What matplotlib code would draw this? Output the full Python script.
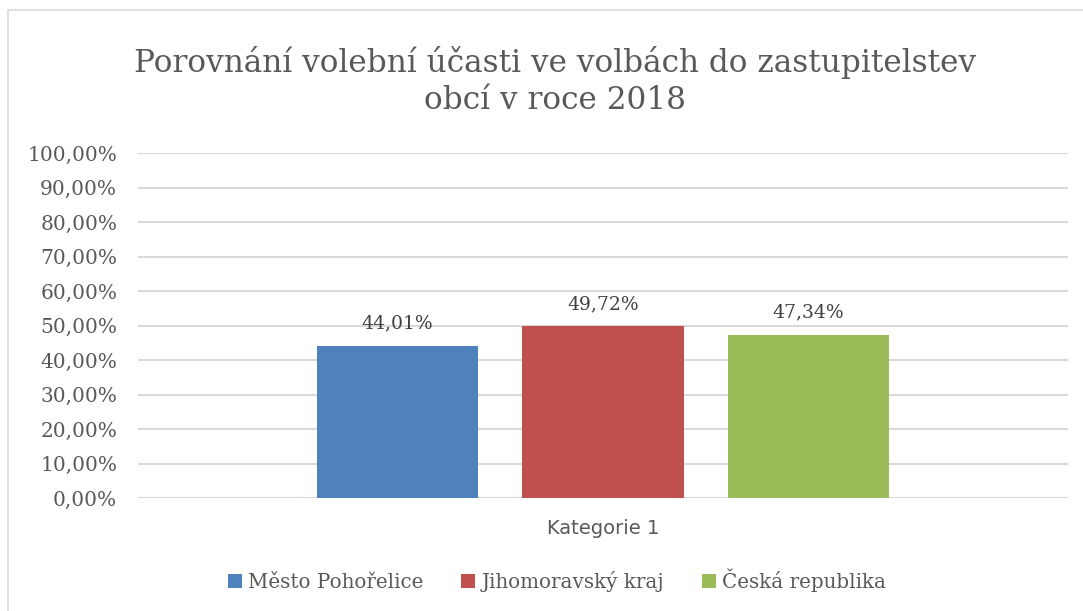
import numpy as np
import matplotlib.pyplot as plt
from matplotlib.ticker import FuncFormatter
from matplotlib.patches import Rectangle

title = "Porovnání volební účasti ve volbách do zastupitelstev\nobcí v roce 2018"
category = "Kategorie 1"
series = ["Město Pohořelice", "Jihomoravský kraj", "Česká republika"]
values = [44.01, 49.72, 47.34]
colors = ["#4f81bd", "#c0504d", "#9bbb59"]

txt = "#595959"
plt.rcParams['font.family'] = ['DejaVu Serif']

fig = plt.figure(figsize=(10.83, 6.11), dpi=100)
fig.patches.append(Rectangle((8 / 1083, -0.1), 1.2, 1.1 - 10 / 611, transform=fig.transFigure,
                             fill=False, edgecolor="#d9d9d9", linewidth=1.2))
ax = fig.add_axes([138 / 1083, 1 - 498 / 611, 930 / 1083, 345 / 611])

w = 0.174
step = 0.221
for i, (name, v, c) in enumerate(zip(series, values, colors)):
    x = (i - 1) * step
    ax.bar(x, v, width=w, color=c, label=name, zorder=3)
    ax.text(x, v + 3.9, f"{v:.2f}%".replace(".", ","), ha="center", va="bottom",
            fontsize=13.5, color="#404040")

ax.set_xlim(-0.5, 0.5)
ax.set_ylim(0, 100)
ax.set_yticks(np.arange(0, 101, 10))
ax.yaxis.set_major_formatter(FuncFormatter(lambda v, p: f"{v:.2f}%".replace(".", ",")))
ax.set_xticks([0])
ax.set_xticklabels([category], family="DejaVu Sans")
ax.tick_params(axis="y", length=0, pad=15, labelsize=14.5, labelcolor=txt)
ax.tick_params(axis="x", length=0, pad=15, labelsize=14, labelcolor=txt)
ax.grid(axis="y", color="#d9d9d9", linewidth=1.5, zorder=0)
for s in ax.spines.values():
    s.set_visible(False)

fig.text(555 / 1083, 1 - 81 / 611, title, ha="center", va="center", fontsize=22.4,
         color=txt, linespacing=1.25)

fig.legend(loc="center", bbox_to_anchor=(557 / 1083, 1 - 580 / 611), ncol=3, frameon=False,
           fontsize=14.3, labelcolor=txt, handlelength=0.7, handleheight=0.7,
           handletextpad=0.3, columnspacing=1.9)

fig.savefig("out.png", dpi=100)
